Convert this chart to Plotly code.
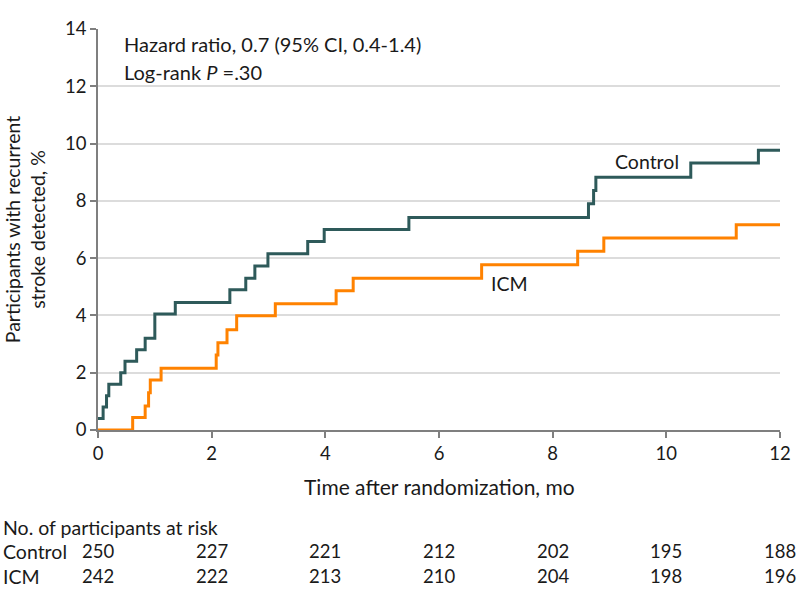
import plotly.graph_objects as go

# Kaplan-Meier cumulative incidence (%)
control_t = [0, 0.09, 0.15, 0.19, 0.40, 0.475, 0.68, 0.83, 1.0, 1.36, 2.32, 2.6, 2.76, 2.99,
             3.69, 3.98, 5.47, 8.63, 8.72, 8.76, 10.43, 11.62, 12]
control_v = [0.4, 0.8, 1.2, 1.6, 2.0, 2.4, 2.8, 3.2, 4.05, 4.45, 4.9, 5.3, 5.73, 6.15,
             6.58, 7.0, 7.42, 7.9, 8.36, 8.82, 9.32, 9.77, 9.77]

icm_t = [0, 0.61, 0.83, 0.89, 0.92, 1.11, 2.08, 2.11, 2.27, 2.44, 3.12, 4.19, 4.49, 6.75,
         8.44, 8.9, 11.23, 12]
icm_v = [0, 0.44, 0.84, 1.3, 1.75, 2.16, 2.62, 3.05, 3.5, 3.99, 4.41, 4.86, 5.3, 5.77,
         6.24, 6.7, 7.17, 7.17]

risk_times = [0, 2, 4, 6, 8, 10, 12]
risk_control = [250, 227, 221, 212, 202, 195, 188]
risk_icm = [242, 222, 213, 210, 204, 198, 196]

x_ticks = [0, 2, 4, 6, 8, 10, 12]
y_ticks = [0, 2, 4, 6, 8, 10, 12, 14]

CONTROL_COLOR = "#2E5A5A"
ICM_COLOR = "#FF8200"
FONT = "Lato"
TXT = "#1a1a1a"

fig = go.Figure()
fig.add_trace(go.Scatter(x=control_t, y=control_v, mode="lines", line_shape="hv",
                         line=dict(color=CONTROL_COLOR, width=3), name="Control",
                         showlegend=False, cliponaxis=False))
fig.add_trace(go.Scatter(x=icm_t, y=icm_v, mode="lines", line_shape="hv",
                         line=dict(color=ICM_COLOR, width=3), name="ICM",
                         showlegend=False, cliponaxis=False))

W, H = 798, 604
L, R, T, B = 98, 18, 29, 174
plot_h = H - T - B
plot_w = W - L - R

def py(ypx):
    return (H - B - ypx) / plot_h

def px(xpx):
    return (xpx - L) / plot_w

annotations = [
    dict(x=0.42, y=13.48, xref="x", yref="y", text="Hazard ratio, 0.7 (95% CI, 0.4-1.4)",
         showarrow=False, xanchor="left", yanchor="middle", font=dict(size=20)),
    dict(x=0.42, y=12.5, xref="x", yref="y", text="Log-rank <i>P</i> =.30",
         showarrow=False, xanchor="left", yanchor="middle", font=dict(size=20)),
    dict(x=9.06, y=9.36, xref="x", yref="y", text="Control", showarrow=False,
         xanchor="left", yanchor="middle", font=dict(size=19.5)),
    dict(x=6.88, y=5.13, xref="x", yref="y", text="ICM", showarrow=False,
         xanchor="left", yanchor="middle", font=dict(size=19.5)),
    # x-axis title
    dict(x=0.5, y=py(487), xref="paper", yref="paper",
         text="Time after randomization, mo", showarrow=False, xanchor="center",
         yanchor="middle", font=dict(size=21)),
    dict(x=px(1), y=py(527), xref="paper", yref="paper",
         text="No. of participants at risk", showarrow=False, xanchor="left",
         yanchor="middle", font=dict(size=19.5)),
    dict(x=px(1), y=py(551), xref="paper", yref="paper", text="Control",
         showarrow=False, xanchor="left", yanchor="middle", font=dict(size=19.5)),
    dict(x=px(1), y=py(576), xref="paper", yref="paper", text="ICM",
         showarrow=False, xanchor="left", yanchor="middle", font=dict(size=19.5)),
]
for t, c, i in zip(risk_times, risk_control, risk_icm):
    annotations.append(dict(x=t, y=py(551), xref="x", yref="paper", text=str(c),
                            showarrow=False, xanchor="center", yanchor="middle",
                            font=dict(size=18.5)))
    annotations.append(dict(x=t, y=py(576), xref="x", yref="paper", text=str(i),
                            showarrow=False, xanchor="center", yanchor="middle",
                            font=dict(size=18.5)))

fig.update_layout(
    width=W, height=H,
    margin=dict(l=L, r=R, t=T, b=B, autoexpand=False),
    paper_bgcolor="white", plot_bgcolor="white",
    font=dict(family=FONT, size=18, color=TXT),
    annotations=annotations,
    xaxis=dict(range=[0, 12], tickvals=x_ticks, ticks="outside", ticklen=6,
               tickcolor="#7f7f7f", tickwidth=1.5, showline=True, linecolor="#7f7f7f",
               linewidth=1.5, showgrid=False, zeroline=False, automargin=False,
               tickfont=dict(size=18.5)),
    yaxis=dict(range=[0, 14], tickvals=y_ticks, ticks="outside", ticklen=6,
               tickcolor="#7f7f7f", tickwidth=1.5, showline=True, linecolor="#7f7f7f",
               linewidth=1.5, showgrid=True, gridcolor="#dcdcdc", gridwidth=1.5,
               zeroline=False, automargin=False,
               title=dict(text="Participants with recurrent<br>stroke detected, %",
                          standoff=14, font=dict(size=19.5)),
               tickfont=dict(size=18.5)),
)

# remove the browser's default 8px body margin so the figure fills the window
fig.write_html("out.html", config={"displayModeBar": False},
               post_script="document.body.style.margin='0px';")
